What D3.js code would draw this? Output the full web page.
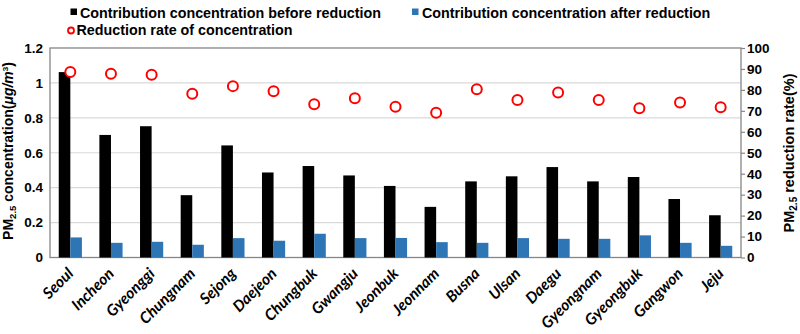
<!DOCTYPE html>
<html>
<head>
<meta charset="utf-8">
<script src="https://cdn.jsdelivr.net/npm/d3@7"></script>
<style>
  body { margin: 0; background: #fff; }
  svg { display: block; font-family: "Liberation Sans", Arial, sans-serif; }
</style>
</head>
<body>
<svg width="800" height="334"></svg>
<script>
const cities = ["Seoul", "Incheon", "Gyeonggi", "Chungnam", "Sejong", "Daejeon", "Chungbuk", "Gwangju",
  "Jeonbuk", "Jeonnam", "Busna", "Ulsan", "Daegu", "Gyeongnam", "Gyeongbuk", "Gangwon", "Jeju"];
const before = [1.062, 0.702, 0.752, 0.357, 0.642, 0.487, 0.524, 0.470,
  0.410, 0.290, 0.436, 0.465, 0.518, 0.436, 0.461, 0.335, 0.242];
const after = [0.115, 0.084, 0.090, 0.073, 0.111, 0.096, 0.136, 0.111,
  0.112, 0.088, 0.084, 0.111, 0.107, 0.107, 0.127, 0.084, 0.067];
const rate = [88.5, 87.7, 87.2, 78.2, 81.8, 79.4, 73.2, 76.0,
  72.0, 69.1, 80.3, 75.2, 78.8, 75.2, 71.2, 74.0, 71.7];
const leftTicks = [0, 0.2, 0.4, 0.6, 0.8, 1, 1.2];
const rightTicks = [0, 10, 20, 30, 40, 50, 60, 70, 80, 90, 100];

const plot_left = 50, plot_right = 741, plot_top = 48, plot_bottom = 257.5;
const blackCol = "#000000", blueCol = "#2e75b6", redCol = "#ff0000";
const axisCol = "#868686", gridCol = "#d9d9d9";

const svg = d3.select("svg");

const x = d3.scaleBand().domain(cities).range([plot_left, plot_right]).paddingInner(0.43).paddingOuter(0.215);
const x1 = d3.scaleBand().domain(["before", "after"]).range([0, x.bandwidth()]);
const yL = d3.scaleLinear().domain([0, 1.2]).range([plot_bottom, plot_top]);
const yR = d3.scaleLinear().domain([0, 100]).range([plot_bottom, plot_top]);

// gridlines
svg.append("g")
  .selectAll("line")
  .data(leftTicks.filter(d => d > 0 && d < 1.2))
  .join("line")
  .attr("x1", plot_left).attr("x2", plot_right)
  .attr("y1", d => yL(d)).attr("y2", d => yL(d))
  .attr("stroke", gridCol).attr("stroke-width", 1.2);

// plot frame
svg.append("rect")
  .attr("x", plot_left).attr("y", yL(1.2))
  .attr("width", plot_right - plot_left).attr("height", plot_bottom - yL(1.2))
  .attr("fill", "none").attr("stroke", axisCol).attr("stroke-width", 1.3);

// bars
const groups = svg.append("g")
  .selectAll("g")
  .data(cities)
  .join("g")
  .attr("transform", d => `translate(${x(d)},0)`);

groups.append("rect")
  .attr("x", x1("before"))
  .attr("width", x1.bandwidth())
  .attr("y", (d, i) => yL(before[i]))
  .attr("height", (d, i) => plot_bottom - yL(before[i]))
  .attr("fill", blackCol);

groups.append("rect")
  .attr("x", x1("after"))
  .attr("width", x1.bandwidth())
  .attr("y", (d, i) => yL(after[i]))
  .attr("height", (d, i) => plot_bottom - yL(after[i]))
  .attr("fill", blueCol);

// reduction rate markers
svg.append("g")
  .selectAll("circle")
  .data(cities)
  .join("circle")
  .attr("cx", d => x(d) + x.bandwidth() / 2)
  .attr("cy", (d, i) => yR(rate[i]))
  .attr("r", 5)
  .attr("fill", "#fff")
  .attr("stroke", redCol)
  .attr("stroke-width", 2);

// left axis
const axL = svg.append("g")
  .attr("transform", `translate(${plot_left},0)`)
  .call(d3.axisLeft(yL).tickValues(leftTicks).tickSize(0).tickPadding(7).tickFormat(d3.format("~g")));
axL.select(".domain").remove();
axL.selectAll("text")
  .attr("font-family", "Liberation Sans, Arial, sans-serif")
  .attr("font-size", 13.5).attr("font-weight", "bold").attr("fill", "#000");

// right axis
const axR = svg.append("g")
  .attr("transform", `translate(${plot_right},0)`)
  .call(d3.axisRight(yR).tickValues(rightTicks).tickSize(4).tickPadding(2));
axR.select(".domain").remove();
axR.selectAll("line").attr("stroke", axisCol).attr("stroke-width", 1.2);
axR.selectAll("text")
  .attr("font-family", "Liberation Sans, Arial, sans-serif")
  .attr("font-size", 13.5).attr("font-weight", "bold").attr("fill", "#000");

// category labels
const axB = svg.append("g")
  .attr("transform", `translate(0,${plot_bottom})`)
  .call(d3.axisBottom(x).tickSize(0).tickPadding(0));
axB.select(".domain").remove();
axB.selectAll("text")
  .attr("font-family", "Lato, sans-serif")
  .attr("font-size", 15.5).attr("font-weight", "bold").attr("font-style", "italic")
  .attr("fill", "#000")
  .attr("text-anchor", "end")
  .attr("dy", 0)
  .attr("transform", "translate(4,17) rotate(-45)");

// axis titles
const leftTitle = svg.append("text")
  .attr("transform", "translate(13,151) rotate(-90)")
  .attr("text-anchor", "middle")
  .attr("font-size", 14).attr("font-weight", "bold");
leftTitle.append("tspan").text("PM");
leftTitle.append("tspan").attr("font-size", 9.5).attr("dy", 3).text("2.5");
leftTitle.append("tspan").attr("dy", -3).text(" concentration(");
leftTitle.append("tspan").attr("font-style", "italic").text("μg/m");
leftTitle.append("tspan").attr("font-size", 8).attr("dy", -5).text("3");
leftTitle.append("tspan").attr("dy", 5).text(")");

const rightTitle = svg.append("text")
  .attr("transform", "translate(794,153) rotate(-90)")
  .attr("text-anchor", "middle")
  .attr("font-size", 14.5).attr("font-weight", "bold");
rightTitle.append("tspan").text("PM");
rightTitle.append("tspan").attr("font-size", 10).attr("dy", 3).text("2.5");
rightTitle.append("tspan").attr("dy", -3).text(" reduction rate(%)");

// legend
const legend = svg.append("g").attr("font-size", 14.3).attr("font-weight", "bold");
legend.append("rect").attr("x", 70.5).attr("y", 8.5).attr("width", 6.5).attr("height", 6.5).attr("fill", blackCol);
legend.append("text").attr("x", 80).attr("y", 17.5).text("Contribution concentration before reduction");
legend.append("rect").attr("x", 412).attr("y", 8.5).attr("width", 6.5).attr("height", 6.5).attr("fill", blueCol);
legend.append("text").attr("x", 422).attr("y", 17.5).text("Contribution concentration after reduction");
legend.append("circle").attr("cx", 71).attr("cy", 30.5).attr("r", 3).attr("fill", "#fff")
  .attr("stroke", redCol).attr("stroke-width", 1.8);
legend.append("text").attr("x", 76.5).attr("y", 35).text("Reduction rate of concentration");
</script>
</body>
</html>
